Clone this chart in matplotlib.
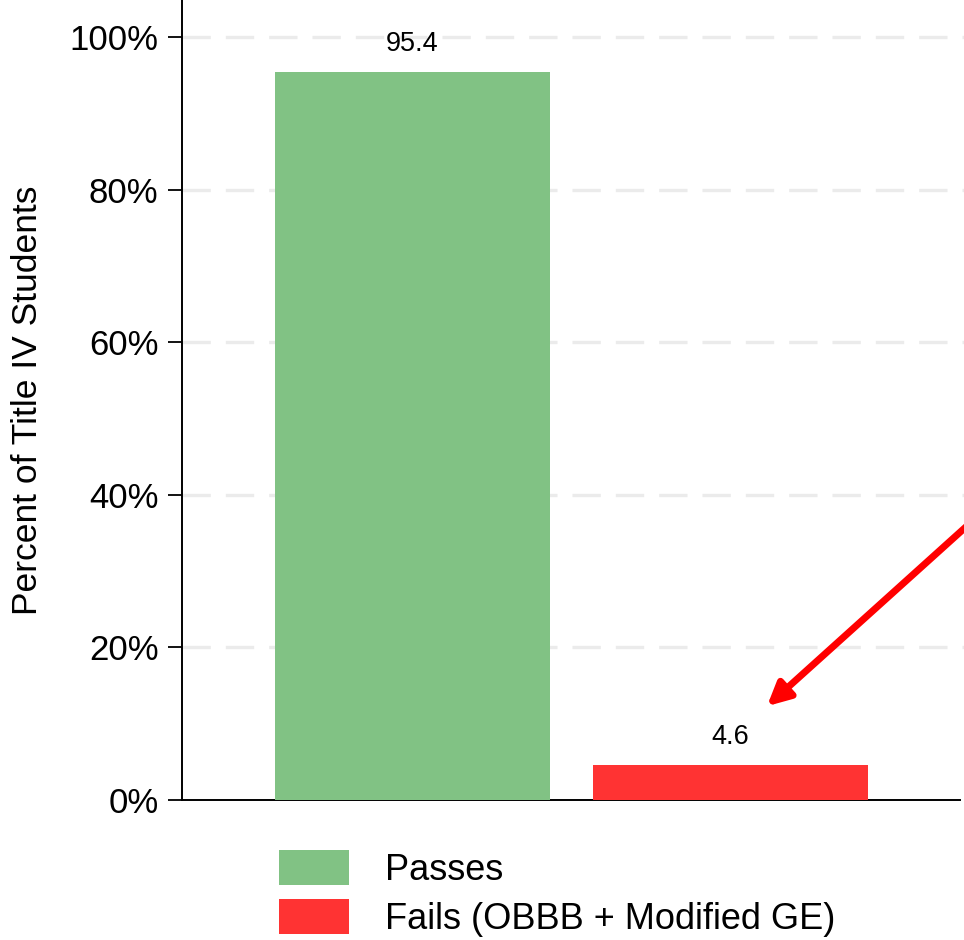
import matplotlib
matplotlib.use("Agg")
import matplotlib.pyplot as plt
from matplotlib.patches import Patch

plt.rcParams['font.family'] = ['Liberation Sans', 'DejaVu Sans']

categories = ["Passes", "Fails (OBBB + Modified GE)"]
values = [95.4, 4.6]
colors = ["#81c284", "#ff3333"]
yticks = [0, 20, 40, 60, 80, 100]
ytick_labels = ["0%", "20%", "40%", "60%", "80%", "100%"]

fig = plt.figure(figsize=(9.64, 9.40), dpi=100)
W, H = 964, 940
ax = fig.add_axes([182 / W, 140 / H, (960 - 182) / W, 800 / H])

x = [0, 1]
ax.bar(x, values, width=0.865, color=colors, zorder=3)
for xi, v in zip(x, values):
    ax.text(xi, v + 2.0, f"{v:.1f}", ha="center", va="bottom", fontsize=19.5, zorder=4)

ax.set_xlim(-0.725, 1.722)
ax.set_ylim(0, 104.85)
ax.set_yticks(yticks)
ax.set_yticklabels(ytick_labels, fontsize=25)
ax.set_xticks([])
ax.tick_params(axis="y", length=10, width=1.3, pad=7)
for yv in yticks[1:]:
    ax.axhline(yv, xmin=0, xmax=1.01, color="#ebebeb", lw=2.4,
               dashes=(8.5, 4.5), zorder=1, clip_on=False)

for s in ["top", "right"]:
    ax.spines[s].set_visible(False)
ax.spines["left"].set_linewidth(1.4)
ax.spines["bottom"].set_linewidth(1.4)

ax.set_ylabel("Percent of Title IV Students", fontsize=25.5, labelpad=18)

ax.annotate("", xy=(1.115, 12.3), xytext=(1.85, 39.9),
            arrowprops=dict(arrowstyle="-|>", color="#ff0000", lw=5,
                            mutation_scale=34, shrinkA=0, shrinkB=0),
            annotation_clip=False, zorder=5)

handles = [Patch(facecolor=c, edgecolor="none") for c in colors]
fig.legend(handles, categories, loc="upper left",
           bbox_to_anchor=(272 / W, 1 - 843 / H), frameon=False,
           fontsize=26, handlelength=1.94, handleheight=1.12,
           labelspacing=0.3, handletextpad=1.0, borderaxespad=0, borderpad=0.2)

fig.savefig("out.png", dpi=100)
